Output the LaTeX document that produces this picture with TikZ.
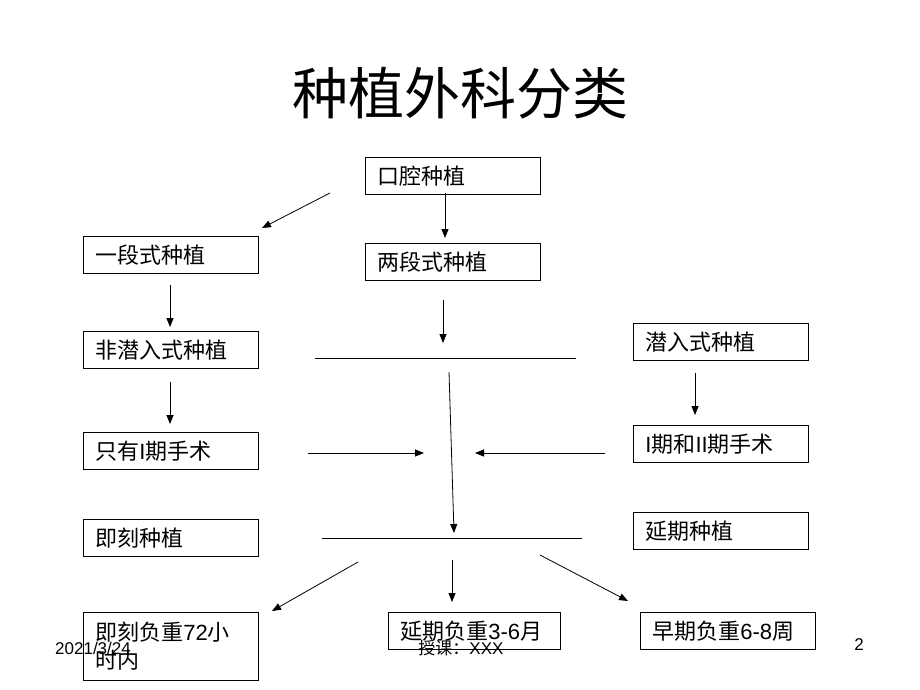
\documentclass[tikz,border=0pt]{standalone}
\usepackage{fontspec}
\setmainfont{Liberation Sans}
\newfontfamily\cjk{Noto Sans CJK SC}
\usetikzlibrary{arrows.meta}
\begin{document}
\begin{tikzpicture}[x=1pt,y=-1pt,
  box/.style={draw, line width=0.8pt, anchor=north west, minimum width=175pt, minimum height=37pt,
    inner xsep=12pt, inner ysep=4pt, text width=151pt, align=left, font=\fontsize{22}{28}\selectfont},
  arr/.style={line width=0.8pt, -{Triangle[length=9pt,width=7pt]}},
  ln/.style={line width=0.8pt},
  foot/.style={font=\fontsize{17}{19}\selectfont}]
\useasboundingbox (0,0) rectangle (920,690);
\fill[white] (0,0) rectangle (920,690);

\node (title) at (460,93) {\fontsize{56}{64}\selectfont\cjk 种植外科分类};

\node[box] (oral) at (365,157) {\cjk 口腔种植};
\node[box] (two) at (365,243) {\cjk 两段式种植};
\node[box] (one) at (83,236) {\cjk 一段式种植};
\node[box] (nonsub) at (83,331) {\cjk 非潜入式种植};
\node[box] (stage1) at (83,432) {{\cjk 只有}I{\cjk 期手术}};
\node[box] (imm) at (83,519) {\cjk 即刻种植};
\node[box, minimum height=68pt] (immload) at (83,612) {{\cjk 即刻负重}72{\cjk 小}\\{\cjk 时内}};
\node[box, minimum width=172pt, text width=148pt] (delload) at (388,612) {{\cjk 延期负重}3-6{\cjk 月}};
\node[box] (earlyload) at (640,612) {{\cjk 早期负重}6-8{\cjk 周}};
\node[box] (sub) at (633,323) {\cjk 潜入式种植};
\node[box] (stage12) at (633,425) {I{\cjk 期和}II{\cjk 期手术}};
\node[box] (delay) at (633,512) {\cjk 延期种植};

\coordinate (d1s) at (330,193);  \coordinate (d1e) at (262,228);
\coordinate (o1s) at (445,193);  \coordinate (o1e) at (445,238);
\coordinate (l1s) at (170,285);  \coordinate (l1e) at (170,327);
\coordinate (t1s) at (443,300);  \coordinate (t1e) at (443,343);
\coordinate (h1s) at (315,358);  \coordinate (h1e) at (576,358);
\coordinate (l2s) at (170,382);  \coordinate (l2e) at (170,424);
\coordinate (vs) at (449,372);   \coordinate (ve) at (454,533);
\coordinate (rs) at (308,453);   \coordinate (re) at (424,453);
\coordinate (ls) at (605,453);   \coordinate (le) at (475,453);
\coordinate (ss) at (695,373);   \coordinate (se) at (695,415);
\coordinate (h2s) at (322,538);  \coordinate (h2e) at (582,538);
\coordinate (dls) at (358,562);  \coordinate (dle) at (272,611);
\coordinate (cds) at (452,560);  \coordinate (cde) at (452,602);
\coordinate (drs) at (540,555);  \coordinate (dre) at (628,601);

\draw[arr] (d1s) -- (d1e);
\draw[arr] (o1s) -- (o1e);
\draw[arr] (l1s) -- (l1e);
\draw[arr] (t1s) -- (t1e);
\draw[ln] (h1s) -- (h1e);
\draw[arr] (l2s) -- (l2e);
\draw[arr] (vs) -- (ve);
\draw[arr] (rs) -- (re);
\draw[arr] (ls) -- (le);
\draw[arr] (ss) -- (se);
\draw[ln] (h2s) -- (h2e);
\draw[arr] (dls) -- (dle);
\draw[arr] (cds) -- (cde);
\draw[arr] (drs) -- (dre);

\node[foot, anchor=west, inner sep=0pt] (date) at (55,648) {2021/3/24};
\node[foot] (teacher) at (461,648) {{\cjk 授课：}XXX};
\node[foot] (page) at (859,645) {2};
\end{tikzpicture}
\end{document}
